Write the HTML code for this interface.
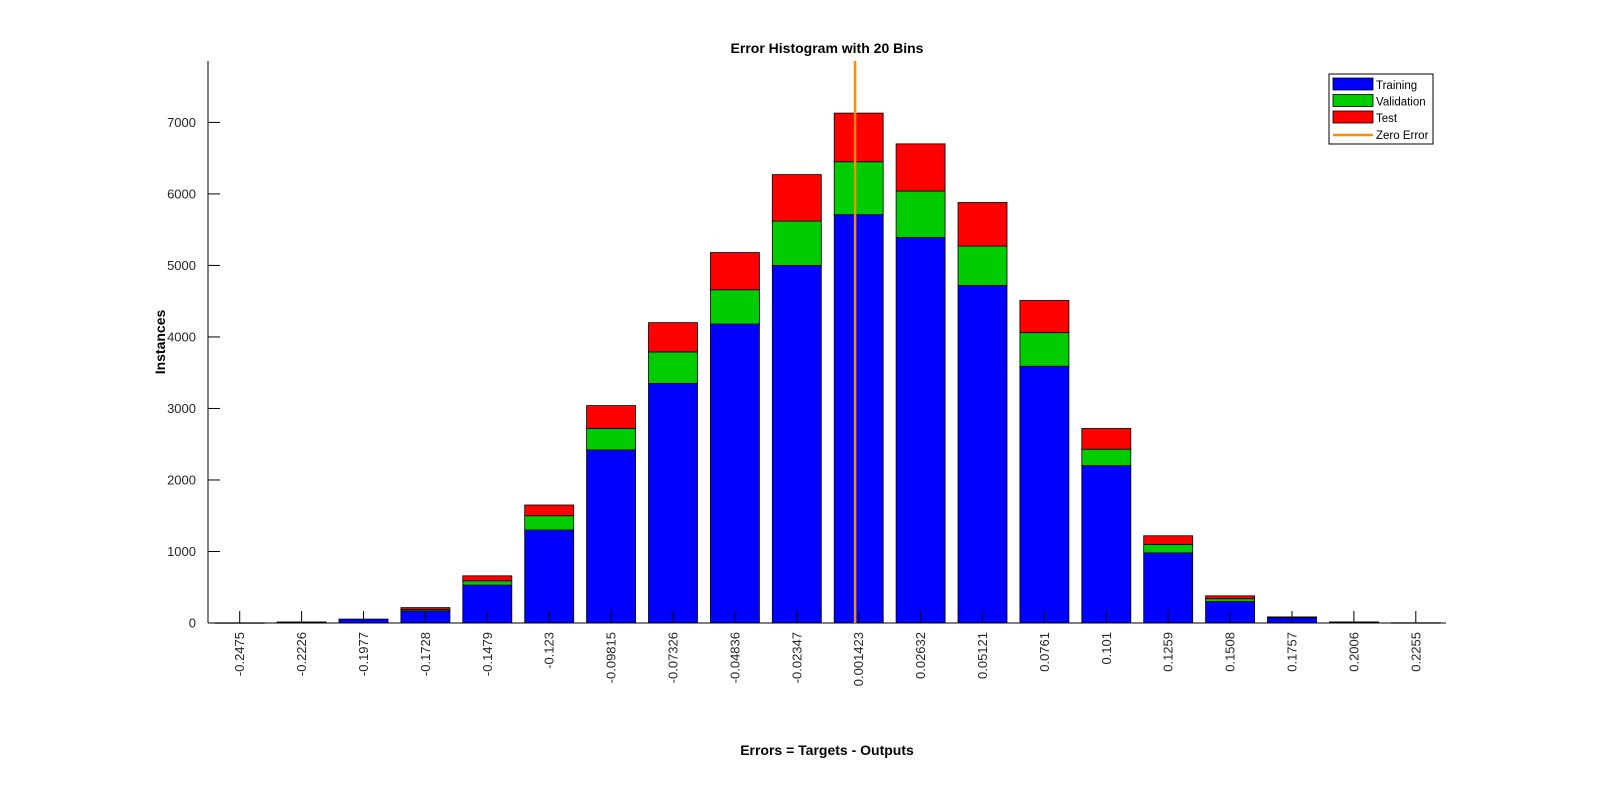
<!DOCTYPE html>
<html><head><meta charset="utf-8"><style>
html,body{margin:0;padding:0;background:#fff;}
svg{display:block;font-family:"Liberation Sans",Arial,sans-serif;}
</style></head><body>
<svg id="chart" width="1600" height="810"></svg>
<script>
const binLabels=["-0.2475","-0.2226","-0.1977","-0.1728","-0.1479","-0.123","-0.09815","-0.07326","-0.04836","-0.02347","0.001423","0.02632","0.05121","0.0761","0.101","0.1259","0.1508","0.1757","0.2006","0.2255"];
const training=[3,10,55,170,530,1300,2420,3350,4180,5000,5710,5390,4720,3590,2200,980,300,75,12,4];
const validation=[0,2,0,20,60,200,300,440,480,620,740,650,550,470,230,120,40,5,2,0];
const test=[0,2,0,25,70,150,320,410,520,650,680,660,610,450,290,120,40,5,1,0];
const yTicks=[0,1000,2000,3000,4000,5000,6000,7000];
const binCenters=[-0.2475,-0.2226,-0.1977,-0.1728,-0.1479,-0.123,-0.09815,-0.07326,-0.04836,-0.02347,0.001423,0.02632,0.05121,0.0761,0.101,0.1259,0.1508,0.1757,0.2006,0.2255];
const zeroError=0;

const svg=document.getElementById('chart');
const NS='http://www.w3.org/2000/svg';
const L=208,R=1446,T=61,B=623;
const x0=239.7,step=61.9,barW=49;
const yScale=v=>B-v*(500.6/7000);
const xIdx=i=>x0+i*step;
const binW=(binCenters[binCenters.length-1]-binCenters[0])/(binCenters.length-1);
const xVal=v=>x0+(v-binCenters[0])/binW*step;
function mk(tag,attrs,txt){const e=document.createElementNS(NS,tag);for(const k in attrs)e.setAttribute(k,attrs[k]);if(txt!==undefined)e.textContent=txt;svg.appendChild(e);return e;}

// bars
for(let i=0;i<binLabels.length;i++){
  const segs=[[training[i],'#0000ff','training'],[validation[i],'#00cc00','validation'],[test[i],'#ff0000','test']];
  let base=0;
  for(const [v,c,n] of segs){
    if(v<=0){continue;}
    const y1=yScale(base+v),y0=yScale(base);
    const r=mk('rect',{x:xIdx(i)-barW/2,y:y1,width:barW,height:Math.max(y0-y1,0.5),fill:c,stroke:'#000','stroke-width':0.8});
    
    
    base+=v;
  }
}
// axes
let a=mk('line',{x1:L,y1:T,x2:L,y2:B,stroke:'#000','stroke-width':1});

a=mk('line',{x1:L,y1:B,x2:R,y2:B,stroke:'#000','stroke-width':1});

for(const t of yTicks){
  const y=yScale(t);
  const tk=mk('line',{x1:L,y1:y,x2:L+12,y2:y,stroke:'#000','stroke-width':1});
  
  const tx=mk('text',{x:L-12,y:y+4.5,'text-anchor':'end','font-size':13,fill:'#262626'},String(t));
  
}
for(let i=0;i<binLabels.length;i++){
  const x=xIdx(i);
  const tk=mk('line',{x1:x,y1:B,x2:x,y2:B-12,stroke:'#000','stroke-width':1});
  
  const tx=mk('text',{x:0,y:0,'text-anchor':'end','font-size':13,fill:'#262626',transform:`translate(${x+4.5},${B+9}) rotate(-90)`},binLabels[i]);
  
}
// zero line
const zx=xVal(zeroError);
a=mk('line',{x1:zx,y1:T,x2:zx,y2:B,stroke:'#ff8c00','stroke-width':2.5});

// titles
a=mk('text',{x:827,y:53,'text-anchor':'middle','font-size':14,'font-weight':'bold',fill:'#000'},'Error Histogram with 20 Bins');

a=mk('text',{x:827,y:755,'text-anchor':'middle','font-size':14,'font-weight':'bold',fill:'#000'},'Errors = Targets - Outputs');

a=mk('text',{x:0,y:0,'text-anchor':'middle','font-size':14,'font-weight':'bold',fill:'#000',transform:'translate(165,342) rotate(-90)'},'Instances');

// legend
a=mk('rect',{x:1329,y:74,width:104,height:70,fill:'#fff',stroke:'#000','stroke-width':1});

const leg=[['Training','#0000ff'],['Validation','#00cc00'],['Test','#ff0000']];
leg.forEach((l,k)=>{
  const y=78+k*16.5;
  const r=mk('rect',{x:1333,y:y,width:40,height:12,fill:l[1],stroke:'#000','stroke-width':0.8});
  
  const t=mk('text',{x:1376,y:y+11,'font-size':11.5,fill:'#000'},l[0]);
  
});
a=mk('line',{x1:1333,y1:135,x2:1373,y2:135,stroke:'#ff8c00','stroke-width':2.5});

a=mk('text',{x:1376,y:139,'font-size':11.5,fill:'#000'},'Zero Error');

</script>
</body></html>
